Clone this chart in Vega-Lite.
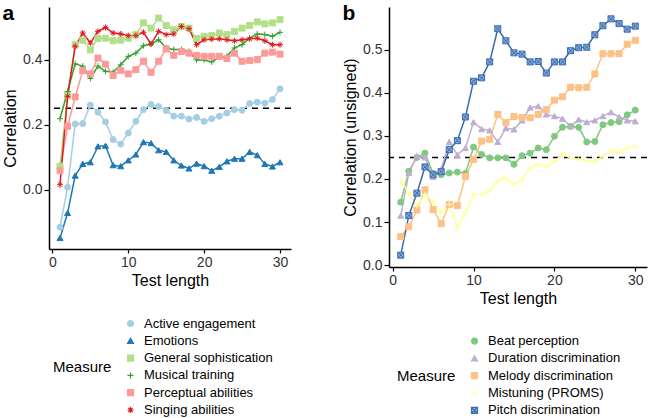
{
"$schema": "https://vega.github.io/schema/vega-lite/v6.json",
"padding": {"left": 2, "top": 3, "right": 0, "bottom": 0},
"spacing": 50,
"config": {
 "font": "Liberation Sans",
 "view": {"stroke": null},
 "axis": {"grid": false, "domainColor": "#000", "domainWidth": 1.5, "tickColor": "#000", "tickWidth": 1.2, "tickSize": 5, "labelFontSize": 14, "labelColor": "#333", "labelPadding": 2, "titleFontSize": 16, "titleFontWeight": "normal", "titleColor": "#000", "titlePadding": 4},
 "axisX": {"tickSize": 4, "labelPadding": 2.5, "titlePadding": 3},
 "legend": {"titleFontSize": 15, "titleFontWeight": "normal", "titleColor": "#000", "labelFontSize": 13, "labelColor": "#000", "symbolSize": 36, "symbolStrokeWidth": 1.2, "labelOffset": 7, "rowPadding": 3.3}
},
"resolve": {"scale": {"x": "independent", "y": "independent", "stroke": "independent", "fill": "independent", "shape": "independent"}, "legend": {"stroke": "independent", "fill": "independent", "shape": "independent"}},
"datasets": {
"a": [
{"len":1,"measure":"Active engagement","r":-0.116},{"len":2,"measure":"Active engagement","r":0.007},{"len":3,"measure":"Active engagement","r":0.202},{"len":4,"measure":"Active engagement","r":0.203},{"len":5,"measure":"Active engagement","r":0.26},{"len":6,"measure":"Active engagement","r":0.238},{"len":7,"measure":"Active engagement","r":0.208},{"len":8,"measure":"Active engagement","r":0.154},{"len":9,"measure":"Active engagement","r":0.14},{"len":10,"measure":"Active engagement","r":0.174},{"len":11,"measure":"Active engagement","r":0.21},{"len":12,"measure":"Active engagement","r":0.246},{"len":13,"measure":"Active engagement","r":0.262},{"len":14,"measure":"Active engagement","r":0.256},{"len":15,"measure":"Active engagement","r":0.243},{"len":16,"measure":"Active engagement","r":0.226},{"len":17,"measure":"Active engagement","r":0.226},{"len":18,"measure":"Active engagement","r":0.217},{"len":19,"measure":"Active engagement","r":0.222},{"len":20,"measure":"Active engagement","r":0.21},{"len":21,"measure":"Active engagement","r":0.218},{"len":22,"measure":"Active engagement","r":0.226},{"len":23,"measure":"Active engagement","r":0.236},{"len":24,"measure":"Active engagement","r":0.246},{"len":25,"measure":"Active engagement","r":0.244},{"len":26,"measure":"Active engagement","r":0.265},{"len":27,"measure":"Active engagement","r":0.269},{"len":28,"measure":"Active engagement","r":0.266},{"len":29,"measure":"Active engagement","r":0.277},{"len":30,"measure":"Active engagement","r":0.31},
{"len":1,"measure":"Emotions","r":-0.149},{"len":2,"measure":"Emotions","r":-0.072},{"len":3,"measure":"Emotions","r":0.043},{"len":4,"measure":"Emotions","r":0.079},{"len":5,"measure":"Emotions","r":0.084},{"len":6,"measure":"Emotions","r":0.133},{"len":7,"measure":"Emotions","r":0.135},{"len":8,"measure":"Emotions","r":0.075},{"len":9,"measure":"Emotions","r":0.072},{"len":10,"measure":"Emotions","r":0.09},{"len":11,"measure":"Emotions","r":0.108},{"len":12,"measure":"Emotions","r":0.146},{"len":13,"measure":"Emotions","r":0.143},{"len":14,"measure":"Emotions","r":0.121},{"len":15,"measure":"Emotions","r":0.116},{"len":16,"measure":"Emotions","r":0.09},{"len":17,"measure":"Emotions","r":0.074},{"len":18,"measure":"Emotions","r":0.065},{"len":19,"measure":"Emotions","r":0.08},{"len":20,"measure":"Emotions","r":0.072},{"len":21,"measure":"Emotions","r":0.058},{"len":22,"measure":"Emotions","r":0.07},{"len":23,"measure":"Emotions","r":0.087},{"len":24,"measure":"Emotions","r":0.095},{"len":25,"measure":"Emotions","r":0.095},{"len":26,"measure":"Emotions","r":0.116},{"len":27,"measure":"Emotions","r":0.106},{"len":28,"measure":"Emotions","r":0.079},{"len":29,"measure":"Emotions","r":0.071},{"len":30,"measure":"Emotions","r":0.084},
{"len":1,"measure":"General sophistication","r":0.072},{"len":2,"measure":"General sophistication","r":0.29},{"len":3,"measure":"General sophistication","r":0.446},{"len":4,"measure":"General sophistication","r":0.46},{"len":5,"measure":"General sophistication","r":0.43},{"len":6,"measure":"General sophistication","r":0.465},{"len":7,"measure":"General sophistication","r":0.466},{"len":8,"measure":"General sophistication","r":0.458},{"len":9,"measure":"General sophistication","r":0.46},{"len":10,"measure":"General sophistication","r":0.466},{"len":11,"measure":"General sophistication","r":0.477},{"len":12,"measure":"General sophistication","r":0.513},{"len":13,"measure":"General sophistication","r":0.497},{"len":14,"measure":"General sophistication","r":0.528},{"len":15,"measure":"General sophistication","r":0.505},{"len":16,"measure":"General sophistication","r":0.492},{"len":17,"measure":"General sophistication","r":0.502},{"len":18,"measure":"General sophistication","r":0.497},{"len":19,"measure":"General sophistication","r":0.465},{"len":20,"measure":"General sophistication","r":0.472},{"len":21,"measure":"General sophistication","r":0.474},{"len":22,"measure":"General sophistication","r":0.482},{"len":23,"measure":"General sophistication","r":0.477},{"len":24,"measure":"General sophistication","r":0.487},{"len":25,"measure":"General sophistication","r":0.497},{"len":26,"measure":"General sophistication","r":0.505},{"len":27,"measure":"General sophistication","r":0.516},{"len":28,"measure":"General sophistication","r":0.51},{"len":29,"measure":"General sophistication","r":0.513},{"len":30,"measure":"General sophistication","r":0.523},
{"len":1,"measure":"Musical training","r":0.218},{"len":2,"measure":"Musical training","r":0.302},{"len":3,"measure":"Musical training","r":0.387},{"len":4,"measure":"Musical training","r":0.38},{"len":5,"measure":"Musical training","r":0.342},{"len":6,"measure":"Musical training","r":0.38},{"len":7,"measure":"Musical training","r":0.364},{"len":8,"measure":"Musical training","r":0.361},{"len":9,"measure":"Musical training","r":0.384},{"len":10,"measure":"Musical training","r":0.41},{"len":11,"measure":"Musical training","r":0.42},{"len":12,"measure":"Musical training","r":0.443},{"len":13,"measure":"Musical training","r":0.448},{"len":14,"measure":"Musical training","r":0.461},{"len":15,"measure":"Musical training","r":0.436},{"len":16,"measure":"Musical training","r":0.431},{"len":17,"measure":"Musical training","r":0.431},{"len":18,"measure":"Musical training","r":0.425},{"len":19,"measure":"Musical training","r":0.399},{"len":20,"measure":"Musical training","r":0.399},{"len":21,"measure":"Musical training","r":0.393},{"len":22,"measure":"Musical training","r":0.407},{"len":23,"measure":"Musical training","r":0.41},{"len":24,"measure":"Musical training","r":0.436},{"len":25,"measure":"Musical training","r":0.446},{"len":26,"measure":"Musical training","r":0.466},{"len":27,"measure":"Musical training","r":0.479},{"len":28,"measure":"Musical training","r":0.477},{"len":29,"measure":"Musical training","r":0.472},{"len":30,"measure":"Musical training","r":0.484},
{"len":1,"measure":"Perceptual abilities","r":0.058},{"len":2,"measure":"Perceptual abilities","r":0.195},{"len":3,"measure":"Perceptual abilities","r":0.285},{"len":4,"measure":"Perceptual abilities","r":0.366},{"len":5,"measure":"Perceptual abilities","r":0.356},{"len":6,"measure":"Perceptual abilities","r":0.405},{"len":7,"measure":"Perceptual abilities","r":0.386},{"len":8,"measure":"Perceptual abilities","r":0.351},{"len":9,"measure":"Perceptual abilities","r":0.367},{"len":10,"measure":"Perceptual abilities","r":0.356},{"len":11,"measure":"Perceptual abilities","r":0.369},{"len":12,"measure":"Perceptual abilities","r":0.395},{"len":13,"measure":"Perceptual abilities","r":0.361},{"len":14,"measure":"Perceptual abilities","r":0.395},{"len":15,"measure":"Perceptual abilities","r":0.433},{"len":16,"measure":"Perceptual abilities","r":0.413},{"len":17,"measure":"Perceptual abilities","r":0.425},{"len":18,"measure":"Perceptual abilities","r":0.42},{"len":19,"measure":"Perceptual abilities","r":0.413},{"len":20,"measure":"Perceptual abilities","r":0.41},{"len":21,"measure":"Perceptual abilities","r":0.41},{"len":22,"measure":"Perceptual abilities","r":0.41},{"len":23,"measure":"Perceptual abilities","r":0.403},{"len":24,"measure":"Perceptual abilities","r":0.42},{"len":25,"measure":"Perceptual abilities","r":0.395},{"len":26,"measure":"Perceptual abilities","r":0.397},{"len":27,"measure":"Perceptual abilities","r":0.4},{"len":28,"measure":"Perceptual abilities","r":0.42},{"len":29,"measure":"Perceptual abilities","r":0.423},{"len":30,"measure":"Perceptual abilities","r":0.417},
{"len":1,"measure":"Singing abilities","r":0.015},{"len":2,"measure":"Singing abilities","r":0.287},{"len":3,"measure":"Singing abilities","r":0.441},{"len":4,"measure":"Singing abilities","r":0.482},{"len":5,"measure":"Singing abilities","r":0.451},{"len":6,"measure":"Singing abilities","r":0.487},{"len":7,"measure":"Singing abilities","r":0.499},{"len":8,"measure":"Singing abilities","r":0.482},{"len":9,"measure":"Singing abilities","r":0.479},{"len":10,"measure":"Singing abilities","r":0.474},{"len":11,"measure":"Singing abilities","r":0.474},{"len":12,"measure":"Singing abilities","r":0.484},{"len":13,"measure":"Singing abilities","r":0.448},{"len":14,"measure":"Singing abilities","r":0.487},{"len":15,"measure":"Singing abilities","r":0.477},{"len":16,"measure":"Singing abilities","r":0.479},{"len":17,"measure":"Singing abilities","r":0.502},{"len":18,"measure":"Singing abilities","r":0.495},{"len":19,"measure":"Singing abilities","r":0.446},{"len":20,"measure":"Singing abilities","r":0.461},{"len":21,"measure":"Singing abilities","r":0.463},{"len":22,"measure":"Singing abilities","r":0.464},{"len":23,"measure":"Singing abilities","r":0.461},{"len":24,"measure":"Singing abilities","r":0.458},{"len":25,"measure":"Singing abilities","r":0.461},{"len":26,"measure":"Singing abilities","r":0.464},{"len":27,"measure":"Singing abilities","r":0.466},{"len":28,"measure":"Singing abilities","r":0.458},{"len":29,"measure":"Singing abilities","r":0.446},{"len":30,"measure":"Singing abilities","r":0.446}
],
"b": [
{"len":1,"measure":"Beat perception","r":0.146},{"len":2,"measure":"Beat perception","r":0.218},{"len":3,"measure":"Beat perception","r":0.25},{"len":4,"measure":"Beat perception","r":0.26},{"len":5,"measure":"Beat perception","r":0.213},{"len":6,"measure":"Beat perception","r":0.21},{"len":7,"measure":"Beat perception","r":0.214},{"len":8,"measure":"Beat perception","r":0.216},{"len":9,"measure":"Beat perception","r":0.213},{"len":10,"measure":"Beat perception","r":0.274},{"len":11,"measure":"Beat perception","r":0.257},{"len":12,"measure":"Beat perception","r":0.249},{"len":13,"measure":"Beat perception","r":0.249},{"len":14,"measure":"Beat perception","r":0.249},{"len":15,"measure":"Beat perception","r":0.234},{"len":16,"measure":"Beat perception","r":0.254},{"len":17,"measure":"Beat perception","r":0.26},{"len":18,"measure":"Beat perception","r":0.272},{"len":19,"measure":"Beat perception","r":0.268},{"len":20,"measure":"Beat perception","r":0.299},{"len":21,"measure":"Beat perception","r":0.32},{"len":22,"measure":"Beat perception","r":0.322},{"len":23,"measure":"Beat perception","r":0.32},{"len":24,"measure":"Beat perception","r":0.286},{"len":25,"measure":"Beat perception","r":0.287},{"len":26,"measure":"Beat perception","r":0.326},{"len":27,"measure":"Beat perception","r":0.331},{"len":28,"measure":"Beat perception","r":0.333},{"len":29,"measure":"Beat perception","r":0.349},{"len":30,"measure":"Beat perception","r":0.36},
{"len":1,"measure":"Duration discrimination","r":0.115},{"len":2,"measure":"Duration discrimination","r":0.214},{"len":3,"measure":"Duration discrimination","r":0.253},{"len":4,"measure":"Duration discrimination","r":0.25},{"len":5,"measure":"Duration discrimination","r":0.205},{"len":6,"measure":"Duration discrimination","r":0.222},{"len":7,"measure":"Duration discrimination","r":0.286},{"len":8,"measure":"Duration discrimination","r":0.256},{"len":9,"measure":"Duration discrimination","r":0.272},{"len":10,"measure":"Duration discrimination","r":0.332},{"len":11,"measure":"Duration discrimination","r":0.316},{"len":12,"measure":"Duration discrimination","r":0.313},{"len":13,"measure":"Duration discrimination","r":0.286},{"len":14,"measure":"Duration discrimination","r":0.318},{"len":15,"measure":"Duration discrimination","r":0.315},{"len":16,"measure":"Duration discrimination","r":0.336},{"len":17,"measure":"Duration discrimination","r":0.366},{"len":18,"measure":"Duration discrimination","r":0.369},{"len":19,"measure":"Duration discrimination","r":0.35},{"len":20,"measure":"Duration discrimination","r":0.346},{"len":21,"measure":"Duration discrimination","r":0.34},{"len":22,"measure":"Duration discrimination","r":0.323},{"len":23,"measure":"Duration discrimination","r":0.338},{"len":24,"measure":"Duration discrimination","r":0.332},{"len":25,"measure":"Duration discrimination","r":0.336},{"len":26,"measure":"Duration discrimination","r":0.346},{"len":27,"measure":"Duration discrimination","r":0.355},{"len":28,"measure":"Duration discrimination","r":0.344},{"len":29,"measure":"Duration discrimination","r":0.336},{"len":30,"measure":"Duration discrimination","r":0.334},
{"len":1,"measure":"Melody discrimination","r":0.066},{"len":2,"measure":"Melody discrimination","r":0.089},{"len":3,"measure":"Melody discrimination","r":0.128},{"len":4,"measure":"Melody discrimination","r":0.175},{"len":5,"measure":"Melody discrimination","r":0.129},{"len":6,"measure":"Melody discrimination","r":0.096},{"len":7,"measure":"Melody discrimination","r":0.141},{"len":8,"measure":"Melody discrimination","r":0.138},{"len":9,"measure":"Melody discrimination","r":0.206},{"len":10,"measure":"Melody discrimination","r":0.245},{"len":11,"measure":"Melody discrimination","r":0.288},{"len":12,"measure":"Melody discrimination","r":0.292},{"len":13,"measure":"Melody discrimination","r":0.35},{"len":14,"measure":"Melody discrimination","r":0.331},{"len":15,"measure":"Melody discrimination","r":0.345},{"len":16,"measure":"Melody discrimination","r":0.343},{"len":17,"measure":"Melody discrimination","r":0.342},{"len":18,"measure":"Melody discrimination","r":0.35},{"len":19,"measure":"Melody discrimination","r":0.361},{"len":20,"measure":"Melody discrimination","r":0.383},{"len":21,"measure":"Melody discrimination","r":0.391},{"len":22,"measure":"Melody discrimination","r":0.413},{"len":23,"measure":"Melody discrimination","r":0.412},{"len":24,"measure":"Melody discrimination","r":0.413},{"len":25,"measure":"Melody discrimination","r":0.444},{"len":26,"measure":"Melody discrimination","r":0.491},{"len":27,"measure":"Melody discrimination","r":0.491},{"len":28,"measure":"Melody discrimination","r":0.491},{"len":29,"measure":"Melody discrimination","r":0.513},{"len":30,"measure":"Melody discrimination","r":0.522},
{"len":1,"measure":"Mistuning (PROMS)","r":0.196},{"len":2,"measure":"Mistuning (PROMS)","r":0.168},{"len":3,"measure":"Mistuning (PROMS)","r":0.137},{"len":4,"measure":"Mistuning (PROMS)","r":0.164},{"len":5,"measure":"Mistuning (PROMS)","r":0.148},{"len":6,"measure":"Mistuning (PROMS)","r":0.121},{"len":7,"measure":"Mistuning (PROMS)","r":0.141},{"len":8,"measure":"Mistuning (PROMS)","r":0.087},{"len":9,"measure":"Mistuning (PROMS)","r":0.121},{"len":10,"measure":"Mistuning (PROMS)","r":0.164},{"len":11,"measure":"Mistuning (PROMS)","r":0.164},{"len":12,"measure":"Mistuning (PROMS)","r":0.172},{"len":13,"measure":"Mistuning (PROMS)","r":0.196},{"len":14,"measure":"Mistuning (PROMS)","r":0.203},{"len":15,"measure":"Mistuning (PROMS)","r":0.187},{"len":16,"measure":"Mistuning (PROMS)","r":0.199},{"len":17,"measure":"Mistuning (PROMS)","r":0.225},{"len":18,"measure":"Mistuning (PROMS)","r":0.235},{"len":19,"measure":"Mistuning (PROMS)","r":0.228},{"len":20,"measure":"Mistuning (PROMS)","r":0.24},{"len":21,"measure":"Mistuning (PROMS)","r":0.258},{"len":22,"measure":"Mistuning (PROMS)","r":0.249},{"len":23,"measure":"Mistuning (PROMS)","r":0.245},{"len":24,"measure":"Mistuning (PROMS)","r":0.243},{"len":25,"measure":"Mistuning (PROMS)","r":0.241},{"len":26,"measure":"Mistuning (PROMS)","r":0.253},{"len":27,"measure":"Mistuning (PROMS)","r":0.266},{"len":28,"measure":"Mistuning (PROMS)","r":0.263},{"len":29,"measure":"Mistuning (PROMS)","r":0.272},{"len":30,"measure":"Mistuning (PROMS)","r":0.276},
{"len":1,"measure":"Pitch discrimination","r":0.023},{"len":2,"measure":"Pitch discrimination","r":0.115},{"len":3,"measure":"Pitch discrimination","r":0.167},{"len":4,"measure":"Pitch discrimination","r":0.228},{"len":5,"measure":"Pitch discrimination","r":0.21},{"len":6,"measure":"Pitch discrimination","r":0.217},{"len":7,"measure":"Pitch discrimination","r":0.268},{"len":8,"measure":"Pitch discrimination","r":0.289},{"len":9,"measure":"Pitch discrimination","r":0.344},{"len":10,"measure":"Pitch discrimination","r":0.427},{"len":11,"measure":"Pitch discrimination","r":0.435},{"len":12,"measure":"Pitch discrimination","r":0.472},{"len":13,"measure":"Pitch discrimination","r":0.549},{"len":14,"measure":"Pitch discrimination","r":0.521},{"len":15,"measure":"Pitch discrimination","r":0.493},{"len":16,"measure":"Pitch discrimination","r":0.49},{"len":17,"measure":"Pitch discrimination","r":0.472},{"len":18,"measure":"Pitch discrimination","r":0.473},{"len":19,"measure":"Pitch discrimination","r":0.446},{"len":20,"measure":"Pitch discrimination","r":0.472},{"len":21,"measure":"Pitch discrimination","r":0.472},{"len":22,"measure":"Pitch discrimination","r":0.498},{"len":23,"measure":"Pitch discrimination","r":0.505},{"len":24,"measure":"Pitch discrimination","r":0.506},{"len":25,"measure":"Pitch discrimination","r":0.535},{"len":26,"measure":"Pitch discrimination","r":0.556},{"len":27,"measure":"Pitch discrimination","r":0.572},{"len":28,"measure":"Pitch discrimination","r":0.561},{"len":29,"measure":"Pitch discrimination","r":0.548},{"len":30,"measure":"Pitch discrimination","r":0.555}
]
},
"hconcat": [
{
 "width": 242, "height": 242,
 "title": {"text": "a", "anchor": "start", "frame": "bounds", "fontSize": 21, "fontWeight": "bold", "baseline": "alphabetic", "offset": 0, "dy": 34},
 "layer": [
  {"data": {"values": [{"ref": 0.25}]}, "mark": {"type": "rule", "strokeDash": [6, 5], "strokeWidth": 1.5, "color": "#000"}, "encoding": {"y": {"field": "ref", "type": "quantitative", "scale": {"domain": [-0.183, 0.562], "nice": false, "zero": false}}}},
  {"data": {"name": "a"}, "mark": {"type": "line", "strokeWidth": 1.5},
   "encoding": {
    "x": {"field": "len", "type": "quantitative", "scale": {"domain": [-0.45, 31.45], "nice": false, "zero": false}, "axis": {"values": [0, 10, 20, 30], "title": "Test length"}},
    "y": {"field": "r", "type": "quantitative", "scale": {"domain": [-0.183, 0.562], "nice": false, "zero": false}, "axis": {"values": [0, 0.2, 0.4], "format": ".1f", "title": "Correlation"}},
    "stroke": {"field": "measure", "type": "nominal", "title": "Measure", "scale": {"domain": ["Active engagement", "Emotions", "General sophistication", "Musical training", "Perceptual abilities", "Singing abilities"], "range": ["#a6cee3", "#1f78b4", "#b2df8a", "#33a02c", "#fb9a99", "#e31a1c"]}, "legend": {"orient": "none", "legendX": 4, "legendY": 310, "direction": "vertical", "titleOrient": "left", "titleAnchor": "middle", "titlePadding": 12}}
   }},
  {"data": {"name": "a"}, "mark": {"type": "point", "filled": true, "size": 36, "strokeWidth": 1, "opacity": 1},
   "encoding": {
    "x": {"field": "len", "type": "quantitative"},
    "y": {"field": "r", "type": "quantitative"},
    "stroke": {"field": "measure", "type": "nominal", "title": "Measure", "legend": {"orient": "none", "legendX": 4, "legendY": 310, "direction": "vertical", "titleOrient": "left", "titleAnchor": "middle", "titlePadding": 12}},
    "fill": {"field": "measure", "type": "nominal", "title": "Measure", "scale": {"domain": ["Active engagement", "Emotions", "General sophistication", "Musical training", "Perceptual abilities", "Singing abilities"], "range": ["#a6cee3", "#1f78b4", "#b2df8a", "#33a02c", "#fb9a99", "#e31a1c"]}, "legend": {"orient": "none", "legendX": 4, "legendY": 310, "direction": "vertical", "titleOrient": "left", "titleAnchor": "middle", "titlePadding": 12}},
    "shape": {"field": "measure", "type": "nominal", "title": "Measure", "scale": {"domain": ["Active engagement", "Emotions", "General sophistication", "Musical training", "Perceptual abilities", "Singing abilities"], "range": ["circle", "triangle-up", "square", "M-1,0H1M0,-1V1", "square", "M-1,0H1M0,-1V1M-0.7,-0.7L0.7,0.7M-0.7,0.7L0.7,-0.7"]}, "legend": {"orient": "none", "legendX": 4, "legendY": 310, "direction": "vertical", "titleOrient": "left", "titleAnchor": "middle", "titlePadding": 12}}
   }}
 ]
},
{
 "width": 258, "height": 260,
 "title": {"text": "b", "anchor": "start", "frame": "bounds", "fontSize": 21, "fontWeight": "bold", "baseline": "alphabetic", "offset": 0, "dy": 34},
 "layer": [
  {"data": {"values": [{"ref": 0.25}]}, "mark": {"type": "rule", "strokeDash": [6, 5], "strokeWidth": 1.5, "color": "#000"}, "encoding": {"y": {"field": "ref", "type": "quantitative", "scale": {"domain": [-0.0045, 0.5995], "nice": false, "zero": false}}}},
  {"data": {"name": "b"}, "mark": {"type": "line", "strokeWidth": 1.5},
   "encoding": {
    "x": {"field": "len", "type": "quantitative", "scale": {"domain": [-0.45, 31.45], "nice": false, "zero": false}, "axis": {"values": [0, 10, 20, 30], "title": "Test length"}},
    "y": {"field": "r", "type": "quantitative", "scale": {"domain": [-0.0045, 0.5995], "nice": false, "zero": false}, "axis": {"values": [0, 0.1, 0.2, 0.3, 0.4, 0.5], "format": ".1f", "title": "Correlation (unsigned)"}},
    "stroke": {"field": "measure", "type": "nominal", "title": "Measure", "scale": {"domain": ["Beat perception", "Duration discrimination", "Melody discrimination", "Mistuning (PROMS)", "Pitch discrimination"], "range": ["#7fc97f", "#beaed4", "#fdc086", "#ffff99", "#386cb0"]}, "legend": {"orient": "none", "legendX": 8, "legendY": 327.6, "direction": "vertical", "titleOrient": "left", "titleAnchor": "middle", "titlePadding": 12}}
   }},
  {"data": {"name": "b"}, "mark": {"type": "point", "filled": true, "size": 36, "strokeWidth": 1, "opacity": 1},
   "encoding": {
    "x": {"field": "len", "type": "quantitative"},
    "y": {"field": "r", "type": "quantitative"},
    "stroke": {"field": "measure", "type": "nominal", "title": "Measure", "legend": {"orient": "none", "legendX": 8, "legendY": 327.6, "direction": "vertical", "titleOrient": "left", "titleAnchor": "middle", "titlePadding": 12}},
    "fill": {"field": "measure", "type": "nominal", "title": "Measure", "scale": {"domain": ["Beat perception", "Duration discrimination", "Melody discrimination", "Mistuning (PROMS)", "Pitch discrimination"], "range": ["#7fc97f", "#beaed4", "#fdc086", "#ffff99", "#8aa7d6"]}, "legend": {"orient": "none", "legendX": 8, "legendY": 327.6, "direction": "vertical", "titleOrient": "left", "titleAnchor": "middle", "titlePadding": 12}},
    "shape": {"field": "measure", "type": "nominal", "title": "Measure", "scale": {"domain": ["Beat perception", "Duration discrimination", "Melody discrimination", "Mistuning (PROMS)", "Pitch discrimination"], "range": ["circle", "triangle-up", "square", "M-1,0H1M0,-1V1", "M-1,-1H1V1H-1ZM-1,-1L1,1M-1,1L1,-1"]}, "legend": {"orient": "none", "legendX": 8, "legendY": 327.6, "direction": "vertical", "titleOrient": "left", "titleAnchor": "middle", "titlePadding": 12}}
   }}
 ]
}
]
}
